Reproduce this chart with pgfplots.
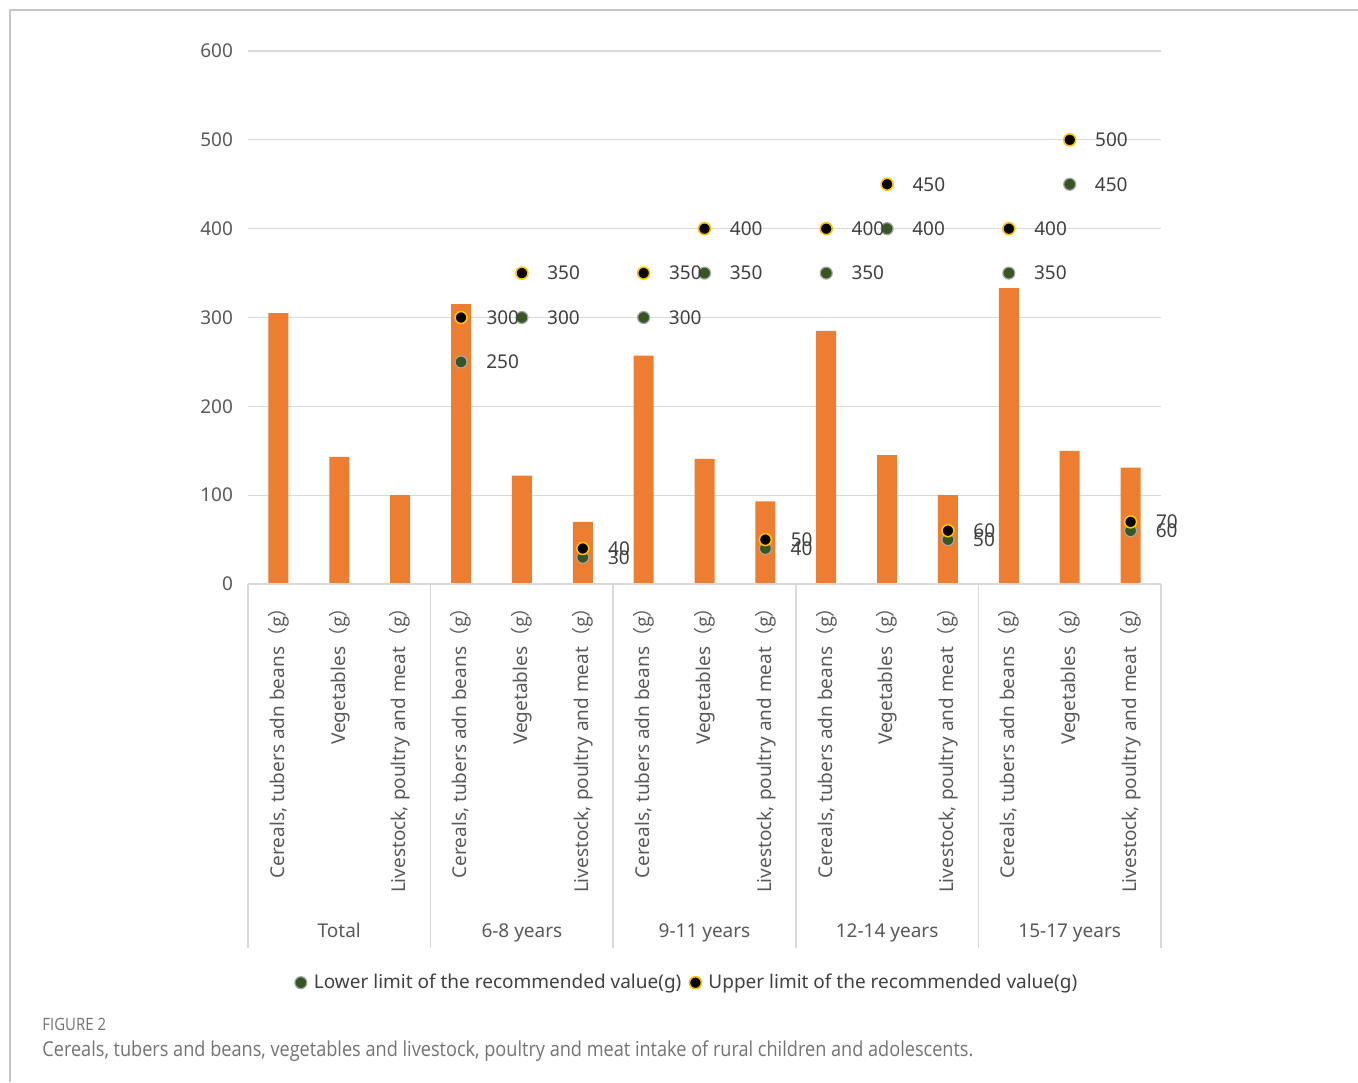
\documentclass[border=0pt]{standalone}
\usepackage{fontspec}
\setmainfont{Noto Sans}
\newfontfamily\cjk{Noto Sans CJK SC}
\newfontfamily\capfont[FakeStretch=0.88]{Open Sans}
\usepackage{pgfplots}
\pgfplotsset{compat=1.18}
\definecolor{barorange}{HTML}{ED7D31}
\definecolor{lowgreen}{HTML}{375623}
\definecolor{upgold}{HTML}{FFC000}
\definecolor{gridgray}{HTML}{D9D9D9}
\definecolor{ticktext}{HTML}{595959}
\definecolor{valtext}{HTML}{404040}
\newcommand\cer{Cereals, tubers adn beans{\cjk （g）}}
\newcommand\veg{Vegetables{\cjk （g）}}
\newcommand\liv{Livestock, poultry and meat{\cjk （g）}}
\newcommand\chartfont{\fontsize{9.5}{11}\selectfont}
\begin{document}
\begin{tikzpicture}
\path[use as bounding box] (0,0) rectangle (679pt,-541pt);
\draw[gray!45, line width=0.8pt] (5pt,-541pt) -- (5pt,-5pt) -- (679pt,-5pt);
\begin{axis}[
  at={(124pt,-292pt)}, anchor=south west,
  scale only axis, width=456.5pt, height=266.5pt,
  xmin=-0.5, xmax=14.5, ymin=0, ymax=600,
  clip=false,
  axis line style={draw=none},
  major tick length=0pt,
  ytick={0,100,...,600},
  ymajorgrids, grid style={gridgray, line width=0.6pt},
  xtick={0,...,14},
  xticklabels={{\cer},{\veg},{\liv},{\cer},{\veg},{\liv},{\cer},{\veg},{\liv},{\cer},{\veg},{\liv},{\cer},{\veg},{\liv}},
  xticklabel style={rotate=90, anchor=east, font=\chartfont, text=ticktext, xshift=-3.5pt},
  yticklabel style={font=\chartfont, text=ticktext, xshift=-4pt},
  /pgf/number format/assume math mode=true,
  legend style={at={(0.482,-0.748)}, anchor=center, draw=none, fill=none,
    font=\chartfont, text=valtext, legend columns=2,
    /tikz/every odd column/.append style={column sep=1.5pt},
    /tikz/every even column/.append style={column sep=2pt}},
  legend cell align=left,
]
\addplot[ybar, bar width=10pt, fill=barorange, draw=none, forget plot] coordinates {
 (0,305) (1,143) (2,100) (3,315) (4,122) (5,70) (6,257) (7,141) (8,93)
 (9,285) (10,145) (11,100) (12,333) (13,150) (14,131)};
\addplot[only marks, mark=*, mark size=3pt, mark options={fill=lowgreen, draw=gray!70, line width=0.6pt},
  nodes near coords, nodes near coords style={anchor=west, xshift=9pt, font=\chartfont, text=valtext}]
 coordinates {(3,250) (4,300) (5,30) (6,300) (7,350) (8,40) (9,350) (10,400) (11,50) (12,350) (13,450) (14,60)};
\addlegendentry{Lower limit of the recommended value(g)}
\addplot[only marks, mark=*, mark size=3pt, mark options={fill=black, draw=upgold, line width=0.8pt},
  nodes near coords, nodes near coords style={anchor=west, xshift=9pt, font=\chartfont, text=valtext}]
 coordinates {(3,300) (4,350) (5,40) (6,350) (7,400) (8,50) (9,400) (10,450) (11,60) (12,400) (13,500) (14,70)};
\addlegendentry{Upper limit of the recommended value(g)}
\draw[gridgray, line width=0.8pt] (axis cs:-0.5,0) -- (axis cs:14.5,0);
\pgfplotsinvokeforeach{-0.5,2.5,5.5,8.5,11.5,14.5}{
  \draw[gridgray, line width=0.8pt] (axis cs:#1,0) -- ++(0pt,-182pt);
}
\node[anchor=base, font=\chartfont, text=ticktext] at ([yshift=-176.5pt]axis cs:1,0) {Total};
\node[anchor=base, font=\chartfont, text=ticktext] at ([yshift=-176.5pt]axis cs:4,0) {6-8 years};
\node[anchor=base, font=\chartfont, text=ticktext] at ([yshift=-176.5pt]axis cs:7,0) {9-11 years};
\node[anchor=base, font=\chartfont, text=ticktext] at ([yshift=-176.5pt]axis cs:10,0) {12-14 years};
\node[anchor=base, font=\chartfont, text=ticktext] at ([yshift=-176.5pt]axis cs:13,0) {15-17 years};
\end{axis}
\node[anchor=west, inner sep=0pt, font=\capfont\fontsize{8.5}{9}\selectfont, text=gray!90!black] at (21pt,-512pt) {FIGURE 2};
\node[anchor=west, inner sep=0pt, font=\capfont\fontsize{10.3}{11}\selectfont, text=gray!90!black] at (21pt,-525.5pt) {Cereals, tubers and beans, vegetables and livestock, poultry and meat intake of rural children and adolescents.};
\end{tikzpicture}
\end{document}
